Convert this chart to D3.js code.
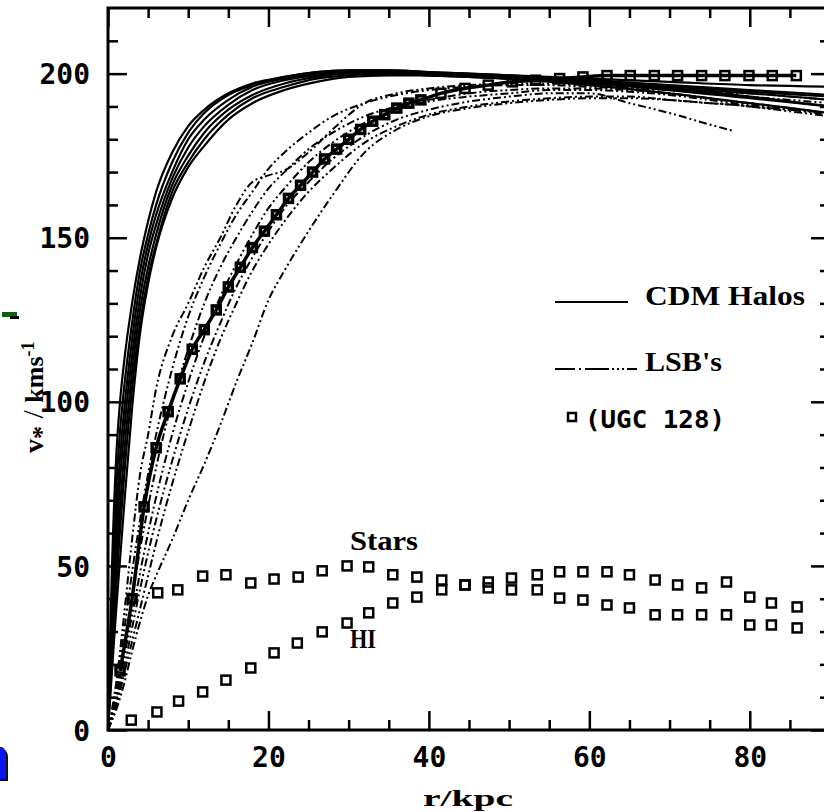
<!DOCTYPE html>
<html>
<head>
<meta charset="utf-8">
<script src="https://cdn.jsdelivr.net/npm/d3@7"></script>
<style>
  body { margin: 0; background: #fff; }
  .tick text { font-family: "DejaVu Sans Mono"; font-weight: bold; font-size: 28px; }
  .serif { font-family: "Liberation Serif"; font-weight: bold; }
</style>
</head>
<body>
<div id="my_dataviz"></div>
<script>
// chart size
const width = 824, height = 812;

// tick values
const xMajor = [0, 20, 40, 60, 80];
const xMinor = [5, 10, 15, 25, 30, 35, 45, 50, 55, 65, 70, 75, 85];
const yMajor = [0, 50, 100, 150, 200];
const yMinor = [10, 20, 30, 40, 60, 70, 80, 90, 110, 120, 130, 140, 160, 170, 180, 190, 210];

// CDM halo curves, sampled on a common radius grid (kpc)
const cdmR = [0, 0.5, 1, 1.5, 2, 3, 4, 5, 6, 8, 10, 12, 15, 18, 22, 26, 30, 35, 40, 50, 60, 70, 80, 90];
const cdm1 = [0, 50, 82, 100, 112, 130, 144, 155, 164, 176, 184, 189, 194, 197, 199, 200.5, 201, 201, 200.5, 199.5, 198, 196.5, 195, 193.5];
const cdm2 = [0, 42, 72, 91, 104, 124, 140, 151, 160, 173, 182, 188, 193.5, 196.5, 199, 200.5, 201, 201, 200.5, 199.5, 198.5, 197.5, 196.5, 196];
const cdm3 = [0, 36, 63, 83, 97, 119, 136, 148, 157, 170, 180, 186, 192, 196, 198.5, 200, 200.5, 200.5, 200, 199, 197.5, 195.5, 193, 190];
const cdm4 = [0, 31, 56, 76, 91, 114, 132, 145, 154, 168, 177.5, 184, 190.5, 195, 198, 199.5, 200.5, 200.5, 200, 198.5, 196.5, 194, 191, 188];
const cdm5 = [0, 26, 49, 68, 84, 109, 128, 141, 151, 166, 175, 182, 189, 193.5, 197, 199, 200, 200, 199.5, 198.5, 197, 195.5, 194, 192];
const cdm6 = [0, 22, 43, 61, 77, 104, 124, 138, 148, 164, 173, 180, 187.5, 192.5, 196, 198.5, 199.5, 200, 199.5, 198.5, 197.5, 196, 194.5, 193];
const cdm7 = [0, 18, 36, 52, 68, 98, 121, 136, 147, 162, 171.5, 178, 186, 191, 195, 197.5, 199, 199.5, 199.5, 198.5, 197, 195, 192.5, 190];

// LSB curves, on their own radius grid (null = no data)
const lsbR = [0, 1, 2, 3, 4, 5, 6, 8, 10, 12, 14, 16, 18, 20, 22, 25, 28, 32, 36, 40, 45, 50, 55, 60, 65, 70, 75, 78, 80, 85, 90];
const lsb1 = [0, 14, 35, 58, 78, 90, 104, 120, 130, 141, 150, 160, 167, 169, 170.5, 176, 183, 191, 194, 195.5, 196.5, 197, 197, 196.5, 196, 195, 194, 193.5, 193, 192, 191];
const lsb2 = [0, 12, 30, 48, 64, 78, 90, 110, 126, 138, 148, 157, 164, 171, 176, 182, 187, 191, 193.5, 195, 196, 196.5, 196.5, 196, 195.5, 195, 194.5, 194, 194, 193, 192];
const lsb3 = [0, 10, 25, 40, 55, 68, 80, 100, 116, 130, 141, 150, 158, 165, 170, 177, 182, 187, 190, 192, 194, 195, 195.5, 195.5, 195, 194, 192.5, 191.5, 191, 189.5, 188];
const lsb4 = [0, 9, 22, 35, 48, 60, 71, 90, 106, 120, 132, 142, 151, 159, 165, 173, 179, 185, 189, 191.5, 193, 194, 195, 195, 194.5, 193.5, 192, 191, 190.5, 189, 187.5];
const lsb5 = [0, 8, 19, 31, 43, 54, 64, 82, 98, 112, 124, 135, 144, 152, 159, 167, 174, 181, 186, 189, 191.5, 193, 194, 194, 191, 188, 184.5, 182.5, null, null, null];
const lsb6 = [0, 7, 17, 27, 37, 47, 57, 75, 91, 106, 119, 130, 140, 148, 155, 164, 171, 179, 184, 187.5, 190, 191.5, 192.5, 193, 193, 192, 191, 190.5, 190, 188.5, 187];
const lsb7 = [0, 6, 14, 24, 33, 41, 47, 58, 70, 81, 93, 106, 118, 131, 140, 152, 163, 176, 183, 187, 189.5, 191, 192, 192.5, 192.5, 192, 191, 190.5, 190, 189, 188];

// UGC 128 observed rotation curve
const ugcR = [1.5, 3, 4.5, 6, 7.5, 9, 10.5, 12, 13.5, 15, 16.5, 18, 19.5, 21, 22.5, 24, 25.5, 27, 28.5, 30, 31.5, 33, 34.5, 36, 37.5, 39, 41.5, 44.5, 47.4, 50.4, 53.3, 56.3, 59.2, 62.2, 65.1, 68.1, 71.0, 74.0, 76.9, 79.9, 82.8, 85.8];
const ugcV = [18, 40, 68, 86, 97, 107, 116, 122, 128, 135, 141, 147, 152, 157, 162, 166, 170, 174, 177, 180, 183, 185.5, 187.5, 189.5, 191, 192, 194, 195.5, 196.5, 197.5, 198, 198.5, 199, 199.4, 199.4, 199.4, 199.4, 199.4, 199.4, 199.4, 199.4, 199.4];

// UGC 128 components
const hiR = [2.9, 6.1, 8.8, 11.8, 14.7, 17.8, 20.7, 23.6, 26.7, 29.8, 32.5, 35.5, 38.5, 41.6, 44.5, 47.4, 50.3, 53.5, 56.3, 59.2, 62.2, 65.0, 68.2, 71.0, 74.0, 77.1, 80.0, 82.7, 85.9];
const hiV = [3, 5.5, 8.8, 11.6, 15.2, 18.9, 23.5, 26.5, 29.9, 32.6, 35.7, 38.7, 40.5, 42.7, 44.2, 45.1, 46.3, 47.3, 48.2, 48.2, 48.2, 47.3, 45.7, 44.2, 43.3, 45.1, 40.5, 38.7, 37.5];
const starR = [6.2, 8.7, 11.8, 14.7, 17.8, 20.7, 23.7, 26.7, 29.8, 32.5, 35.5, 38.5, 41.6, 44.5, 47.4, 50.3, 53.5, 56.3, 59.2, 62.2, 65.0, 68.2, 71.0, 74.0, 77.1, 80.0, 82.7, 85.9];
const starV = [41.8, 42.7, 46.9, 47.3, 44.8, 46.0, 46.6, 48.5, 50.0, 49.7, 47.3, 46.6, 45.7, 44.2, 43.3, 42.7, 42.7, 40.2, 39.6, 38.1, 37.2, 35.1, 35.1, 35.1, 35.1, 32.0, 32.0, 31.1];

const svg = d3.select("#my_dataviz")
  .append("svg")
    .attr("width", width)
    .attr("height", height)
    .style("display", "block");

const x = d3.scaleLinear().domain([0, 90]).range([108, 830]);
const y = d3.scaleLinear().domain([0, 220]).range([730, 8]);

// clip to plot frame
svg.append("clipPath").attr("id", "plot")
  .append("rect").attr("x", 108).attr("y", 8).attr("width", 722).attr("height", 722);
const plot = svg.append("g").attr("clip-path", "url(#plot)");

const line = d3.line()
  .defined(d => d[1] !== null)
  .x(d => x(d[0]))
  .y(d => y(d[1]))
  .curve(d3.curveMonotoneX);

// CDM halos: solid
[cdm1, cdm2, cdm3, cdm4, cdm5, cdm6, cdm7].forEach(vals => {
  plot.append("path")
    .datum(cdmR.map((r, i) => [r, vals[i]]))
    .attr("d", line)
    .attr("fill", "none")
    .attr("stroke", "#000")
    .attr("stroke-width", 2.2);
});

// LSBs: dash-dot
[lsb1, lsb2, lsb3, lsb4, lsb5, lsb6, lsb7].forEach(vals => {
  plot.append("path")
    .datum(lsbR.map((r, i) => [r, vals[i]]))
    .attr("d", line)
    .attr("fill", "none")
    .attr("stroke", "#000")
    .attr("stroke-width", 2)
    .attr("stroke-dasharray", "8,3,2,3,2,3");
});

// UGC 128 data: heavy inner part, open squares further out
plot.append("path")
  .datum(ugcR.map((r, i) => [r, ugcV[i]]))
  .attr("d", line)
  .attr("fill", "none")
  .attr("stroke", "#000")
  .attr("stroke-width", 3.5);

function squares(rs, vs, s, sw) {
  plot.append("g").selectAll("rect")
    .data(rs.map((r, i) => [r, vs[i]]))
    .join("rect")
      .attr("x", d => x(d[0]) - s / 2)
      .attr("y", d => y(d[1]) - s / 2)
      .attr("width", s)
      .attr("height", s)
      .attr("fill", "none")
      .attr("stroke", "#000")
      .attr("stroke-width", sw);
}
squares(ugcR.filter(r => r < 40), ugcV.filter((v, i) => ugcR[i] < 40), 8, 3.5);
squares(ugcR.filter(r => r >= 40), ugcV.filter((v, i) => ugcR[i] >= 40), 9, 2.5);
squares(hiR, hiV, 9, 2.5);
squares(starR, starV, 9, 2.5);

// frame
svg.append("rect")
  .attr("x", 108).attr("y", 8).attr("width", 722).attr("height", 722)
  .attr("fill", "none").attr("stroke", "#000").attr("stroke-width", 3);

// axes, ticks pointing inward
function axis(gen, tx, ty, vals, size, labels) {
  const g = svg.append("g")
    .attr("transform", "translate(" + tx + "," + ty + ")")
    .call(gen.tickValues(vals).tickSize(-size).tickPadding(labels ? 36 : 0)
      .tickFormat(labels ? d3.format("d") : ""));
  g.select(".domain").remove();
  g.selectAll(".tick line").attr("stroke-width", 2.5);
  return g;
}
const xb = axis(d3.axisBottom(x), 0, 730, xMajor, 19, true);
xb.selectAll("text").attr("y", 17).attr("dy", "0.71em");
axis(d3.axisBottom(x), 0, 730, xMinor, 10, false);
axis(d3.axisTop(x), 0, 8, xMajor, 19, false);
axis(d3.axisTop(x), 0, 8, xMinor, 10, false);
const yl = axis(d3.axisLeft(y), 108, 0, yMajor, 19, true);
yl.selectAll("text").attr("x", -18).attr("dy", "0.36em");
axis(d3.axisLeft(y), 108, 0, yMinor, 10, false);
axis(d3.axisRight(y), 830, 0, yMajor, 19, false);
axis(d3.axisRight(y), 830, 0, yMinor, 10, false);

// axis titles
svg.append("text").attr("class", "serif")
  .attr("x", 423).attr("y", 806)
  .attr("font-size", 24)
  .attr("textLength", 90).attr("lengthAdjust", "spacingAndGlyphs")
  .text("r/kpc");

const yt = svg.append("text").attr("class", "serif")
  .attr("transform", "translate(43,453) rotate(-90)")
  .attr("font-size", 26);
yt.append("tspan").attr("font-size", 28).text("v");
yt.append("tspan").attr("dy", 7).attr("font-size", 26).text("*");
yt.append("tspan").attr("dy", -7).attr("font-size", 30).attr("font-weight", "normal").text(" / ");
yt.append("tspan").text("kms");
yt.append("tspan").attr("dy", -9).attr("font-size", 18).text("-1");

// legend
svg.append("line").attr("x1", 555).attr("x2", 628).attr("y1", 302).attr("y2", 302)
  .attr("stroke", "#000").attr("stroke-width", 2);
svg.append("text").attr("class", "serif")
  .attr("x", 645).attr("y", 305).attr("font-size", 27)
  .attr("textLength", 160).attr("lengthAdjust", "spacingAndGlyphs")
  .text("CDM Halos");
svg.append("line").attr("x1", 555).attr("x2", 637).attr("y1", 369).attr("y2", 369)
  .attr("stroke", "#000").attr("stroke-width", 2)
  .attr("stroke-dasharray", "20,4,2,4,24,3,2,3,2,3,2,3");
svg.append("text").attr("class", "serif")
  .attr("x", 645).attr("y", 371).attr("font-size", 27)
  .attr("textLength", 77).attr("lengthAdjust", "spacingAndGlyphs")
  .text("LSB's");
svg.append("rect").attr("x", 568).attr("y", 413).attr("width", 8).attr("height", 8)
  .attr("fill", "none").attr("stroke", "#000").attr("stroke-width", 2.5);
svg.append("text")
  .attr("x", 585).attr("y", 428)
  .attr("font-family", "DejaVu Sans Mono").attr("font-weight", "bold").attr("font-size", 24)
  .attr("textLength", 140).attr("lengthAdjust", "spacingAndGlyphs")
  .text("(UGC 128)");

// component labels
svg.append("text").attr("class", "serif")
  .attr("x", 350).attr("y", 550).attr("font-size", 27)
  .attr("textLength", 68).attr("lengthAdjust", "spacingAndGlyphs")
  .text("Stars");
svg.append("text").attr("class", "serif")
  .attr("x", 350).attr("y", 648).attr("font-size", 27)
  .attr("textLength", 26).attr("lengthAdjust", "spacingAndGlyphs")
  .text("HI");

// stray marks at the left edge of the picture
svg.append("rect").attr("x", 2).attr("y", 312).attr("width", 15).attr("height", 5).attr("fill", "#0b5e12");
svg.append("rect").attr("x", 10).attr("y", 316).attr("width", 9).attr("height", 3).attr("fill", "#000");
svg.append("path").attr("d", "M0,749 L3,749 Q8,751 8,757 L8,781 L0,781 Z").attr("fill", "#111");
svg.append("path").attr("d", "M0,747 L2,747 Q6,749 6,755 L6,779 L0,779 Z").attr("fill", "#0a14f5");
</script>
</body>
</html>
